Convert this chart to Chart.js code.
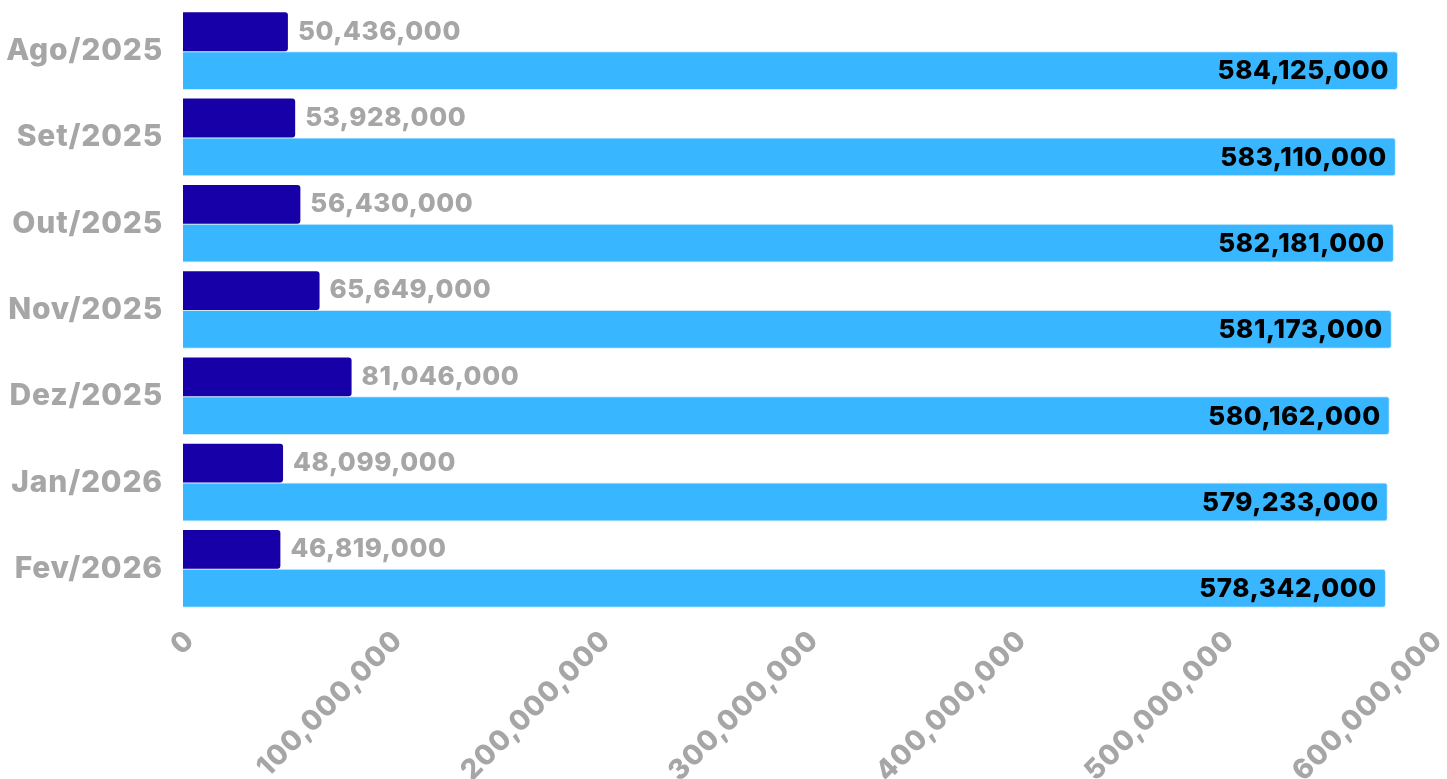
<!DOCTYPE html>
<html>
<head>
<meta charset="utf-8">
<script src="https://cdn.jsdelivr.net/npm/chart.js@4.4.1/dist/chart.umd.min.js"></script>
<style>
    html, body { margin: 0; padding: 0; background: #ffffff; }
    #wrap { width: 1447px; height: 779px; position: relative; }
</style>
</head>
<body>
<div id="wrap"><canvas id="barChart"></canvas></div>
<script>
// Chart data
const months = ['Ago/2025', 'Set/2025', 'Out/2025', 'Nov/2025', 'Dez/2025', 'Jan/2026', 'Fev/2026'];
const smallValues = [50436000, 53928000, 56430000, 65649000, 81046000, 48099000, 46819000];
const bigValues = [584125000, 583110000, 582181000, 581173000, 580162000, 579233000, 578342000];
const axisMax = 600000000;
const axisStep = 100000000;

const fontName = 'Inter, "Noto Sans", sans-serif';
const grey = '#a6a6a6';

function fmt(v) {
    return v.toLocaleString('en-US');
}

// wider letters for the axis text (the original font is wider than Inter)
const spacing = {
    id: 'spacing',
    beforeUpdate(chart) { chart.ctx.letterSpacing = '0.8px'; },
    beforeDraw(chart) { chart.ctx.letterSpacing = '0.8px'; }
};

// Draws the value next to / inside each bar
const valueLabels = {
    id: 'valueLabels',
    afterDatasetsDraw(chart) {
        const ctx = chart.ctx;
        ctx.save();
        ctx.font = '800 26px ' + fontName;
        ctx.letterSpacing = '0.6px';
        ctx.textBaseline = 'middle';
        chart.data.datasets.forEach((ds, i) => {
            const meta = chart.getDatasetMeta(i);
            meta.data.forEach((bar, j) => {
                const text = fmt(ds.data[j]);
                if (i === 0) {
                    ctx.fillStyle = grey;
                    ctx.textAlign = 'left';
                    ctx.fillText(text, bar.x + 10, bar.y);
                } else {
                    ctx.fillStyle = '#000000';
                    ctx.textAlign = 'right';
                    ctx.fillText(text, bar.x - 9, bar.y + 1);
                }
            });
        });
        ctx.restore();
    }
};

const ctx = document.getElementById('barChart').getContext('2d');
const barChart = new Chart(ctx, {
    type: 'bar',
    data: {
        labels: months,
        datasets: [
            {
                label: 'Menor',
                data: smallValues,
                backgroundColor: '#1800a8',
                borderRadius: 3,
                borderSkipped: 'start'
            },
            {
                label: 'Maior',
                data: bigValues,
                backgroundColor: '#38b6ff',
                borderColor: '#c9e9fb',
                borderWidth: 1,
                borderRadius: 3,
                borderSkipped: 'start'
            }
        ]
    },
    plugins: [spacing, valueLabels],
    options: {
        indexAxis: 'y',
        responsive: true,
        maintainAspectRatio: false,
        animation: false,
        layout: {
            padding: { left: 0, right: 16, top: 8, bottom: 0 }
        },
        datasets: {
            bar: { categoryPercentage: 0.9, barPercentage: 1.0 }
        },
        plugins: {
            legend: { display: false },
            tooltip: { enabled: false }
        },
        scales: {
            x: {
                min: 0,
                max: axisMax,
                grid: { display: false, drawTicks: false },
                border: { display: false },
                afterFit: function(scale) {
                    scale.height = 167;
                    scale.paddingLeft = 0;
                    scale.paddingRight = 0;
                    scale.paddingTop = 0;
                    scale.paddingBottom = 0;
                },
                ticks: {
                    stepSize: axisStep,
                    minRotation: 45,
                    maxRotation: 45,
                    padding: 12,
                    labelOffset: 7,
                    color: grey,
                    font: { family: fontName, size: 28, weight: '800' },
                    callback: function(value) {
                        return fmt(value);
                    }
                }
            },
            y: {
                grid: { display: false, drawTicks: false },
                border: { display: false },
                afterFit: function(scale) {
                    scale.width = 183;
                    scale.paddingLeft = 0;
                    scale.paddingRight = 0;
                    scale.paddingTop = 0;
                    scale.paddingBottom = 0;
                },
                ticks: {
                    padding: 20,
                    color: grey,
                    font: { family: fontName, size: 30, weight: '800' }
                }
            }
        }
    }
});
</script>
</body>
</html>
